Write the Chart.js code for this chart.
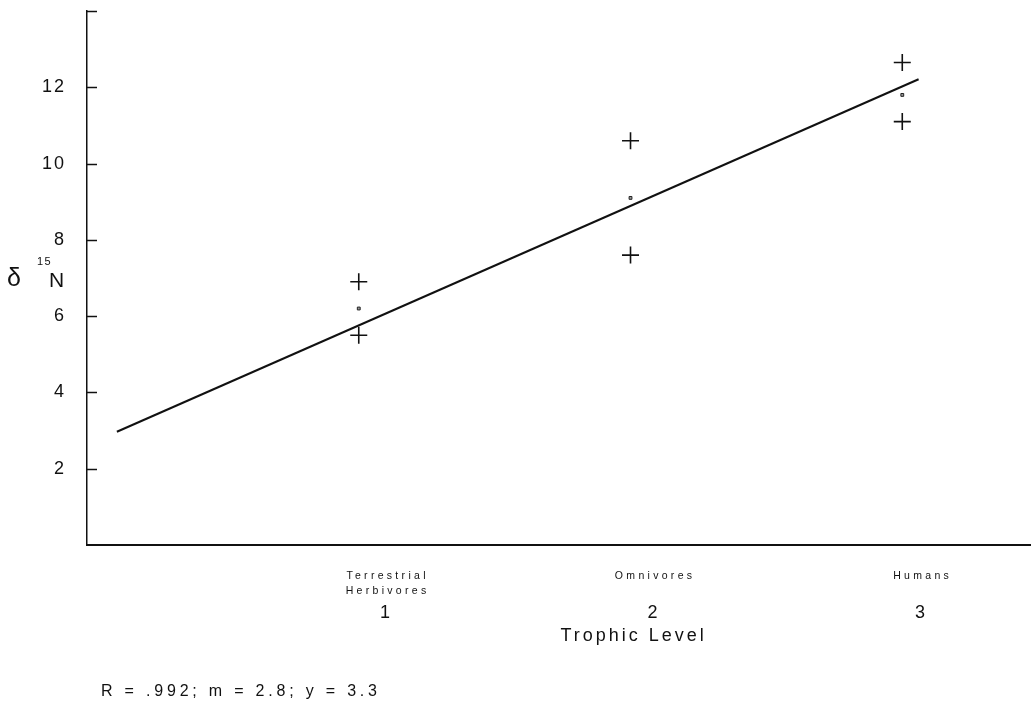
<html>
<head>
  <meta charset="UTF-8">
  <script src="https://cdn.jsdelivr.net/npm/chart.js@4/dist/chart.umd.min.js"></script>
  <style> body {padding: 0; margin: 0; background: #fff;} </style>
</head>

<body>

<canvas id="myChart" width="1032" height="704"></canvas>

<script>

// trophic levels and the category names printed under them
var levels = [1, 2, 3];
var levelNames = [['Terrestrial', 'Herbivores'], ['Omnivores'], ['Humans']];

// d15N: upper cross, lower cross, small mean mark
var highValues = [6.9, 10.6, 12.65];
var lowValues = [5.5, 7.6, 11.1];
var meanValues = [6.2, 9.1, 11.8];

// ends of the fitted line
var fitX = [0.11, 3.06];
var fitY = [2.97, 12.21];

var yTickLabels = [2, 4, 6, 8, 10, 12];
var xTitle = 'Trophic Level';
var footer = 'R = .992; m = 2.8; y = 3.3';

var ink = '#111';
var font = '"Liberation Sans", Arial, Helvetica, sans-serif';

function pts(xs, ys) {
    var out = [];
    for (var i = 0; i < xs.length; i++) {
        out.push({x: xs[i], y: ys[i]});
    }
    return out;
}

var extras = {
    id: 'extras',
    beforeDraw: function(chart) {
        // spaced-out tick numbers like the original
        chart.ctx.letterSpacing = '2px';
    },
    beforeDatasetsDraw: function(chart) {
        chart.ctx.letterSpacing = '0px';
    },
    afterDraw: function(chart) {
        var ctx = chart.ctx;
        var area = chart.chartArea;
        var y = chart.scales.y;
        var xl = chart.scales.xl;

        ctx.save();
        // inward tick marks on the y axis
        ctx.strokeStyle = ink;
        ctx.lineWidth = 1.5;
        y.ticks.forEach(function(t) {
            if (t.value === 0) return;
            var py = Math.round(y.getPixelForValue(t.value)) + 0.5;
            ctx.beginPath();
            ctx.moveTo(area.left, py);
            ctx.lineTo(area.left + 10, py);
            ctx.stroke();
        });

        ctx.fillStyle = ink;
        ctx.textAlign = 'center';
        ctx.textBaseline = 'middle';

        // category names
        ctx.font = '10.5px ' + font;
        ctx.letterSpacing = '3.3px';
        for (var i = 0; i < levels.length; i++) {
            var px = xl.getPixelForValue(levels[i]);
            for (var j = 0; j < levelNames[i].length; j++) {
                ctx.fillText(levelNames[i][j], px + 1.5, 576 + j * 15);
            }
        }

        // axis title
        ctx.font = '18px ' + font;
        ctx.letterSpacing = '3px';
        ctx.fillText(xTitle, xl.getPixelForValue(2) - 20, 636);

        // footer
        ctx.textAlign = 'left';
        ctx.font = '16px ' + font;
        ctx.letterSpacing = '3.8px';
        ctx.fillText(footer, 101, 692);

        // y title: delta 15 N
        ctx.letterSpacing = '0px';
        ctx.font = '25px ' + font;
        ctx.fillText('\u03b4', 7, 279);
        ctx.font = '11px ' + font;
        ctx.letterSpacing = '1.5px';
        ctx.fillText('15', 37, 262);
        ctx.letterSpacing = '0px';
        ctx.font = '21px ' + font;
        ctx.fillText('N', 49, 281);
        ctx.restore();
    }
};

var ctx = document.getElementById('myChart').getContext('2d');

var myChart = new Chart(ctx, {
    type: 'scatter',
    data: {
        datasets: [{
            label: 'high',
            data: pts(levels, highValues),
            pointStyle: 'cross',
            pointRadius: 8.5,
            pointBorderWidth: 1.6,
            borderColor: ink,
            backgroundColor: ink
        }, {
            label: 'low',
            data: pts(levels, lowValues),
            pointStyle: 'cross',
            pointRadius: 8.5,
            pointBorderWidth: 1.6,
            borderColor: ink,
            backgroundColor: ink
        }, {
            label: 'mean',
            data: pts(levels, meanValues),
            pointStyle: 'rect',
            pointRadius: 2,
            pointBorderWidth: 1,
            borderColor: '#222',
            backgroundColor: '#999'
        }, {
            label: 'fit',
            type: 'line',
            data: pts(fitX, fitY),
            borderColor: ink,
            borderWidth: 2,
            pointRadius: 0,
            fill: false
        }]
    },
    options: {
        responsive: false,
        animation: false,
        devicePixelRatio: 1,
        layout: {autoPadding: false, padding: {top: 11, right: 2, left: 0, bottom: 0}},
        plugins: {
            legend: {display: false},
            tooltip: {enabled: false}
        },
        scales: {
            x: {
                type: 'linear',
                display: false,
                min: 0,
                max: 3.47
            },
            xl: {
                type: 'linear',
                position: 'bottom',
                min: -0.118,
                max: 3.407,
                afterBuildTicks: function(scale) {
                    scale.ticks = levels.map(function(v) { return {value: v}; });
                },
                afterFit: function(scale) {
                    scale.height = 159;
                    scale.paddingLeft = 0;
                    scale.paddingRight = 0;
                },
                grid: {drawOnChartArea: false, drawTicks: false},
                border: {display: true, color: ink, width: 2},
                ticks: {
                    color: ink,
                    padding: 57,
                    maxRotation: 0,
                    font: {family: font, size: 18},
                    callback: function(v) { return String(v); }
                }
            },
            y: {
                min: 0,
                max: 14,
                afterFit: function(scale) {
                    scale.width = 87;
                    scale.paddingTop = 0;
                    scale.paddingBottom = 0;
                },
                grid: {drawOnChartArea: false, drawTicks: false},
                border: {display: true, color: ink, width: 1.5},
                ticks: {
                    stepSize: 2,
                    color: ink,
                    padding: 21,
                    font: {family: font, size: 18},
                    callback: function(v) {
                        return yTickLabels.indexOf(v) >= 0 ? String(v) : '';
                    }
                }
            }
        }
    },
    plugins: [extras]
});

</script>
</body>
</html>
